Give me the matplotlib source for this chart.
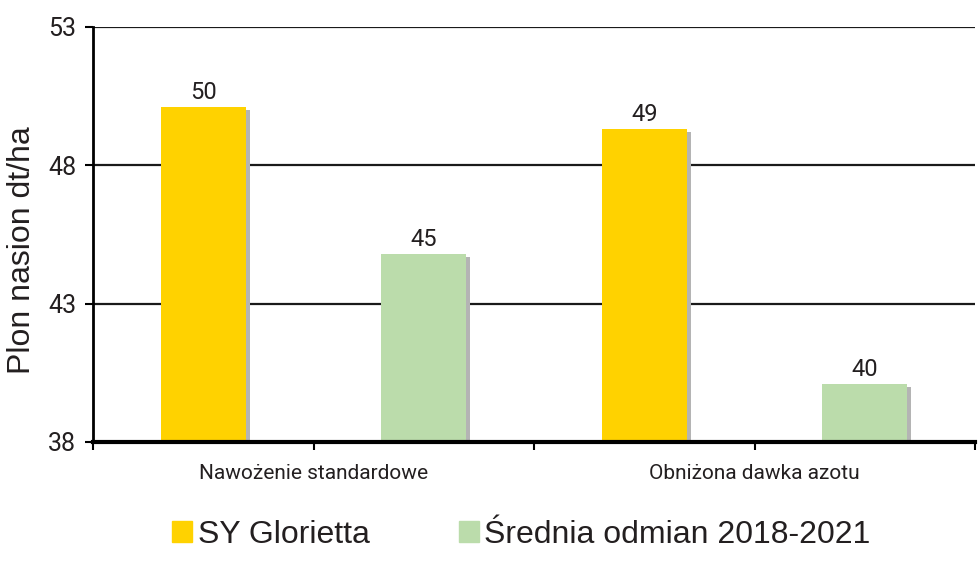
import matplotlib
matplotlib.use("Agg")
import matplotlib.pyplot as plt
import matplotlib.patheffects as pe
from matplotlib.patches import Patch

categories = ["Nawożenie standardowe", "Obniżona dawka azotu"]
series_names = ["SY Glorietta", "Średnia odmian 2018-2021"]
glorietta = [50.1, 49.3]
srednia = [44.8, 40.1]
value_labels_g = ["50", "49"]
value_labels_s = ["45", "40"]
yticks = [38, 43, 48, 53]

c_yellow = "#FFD200"
c_green = "#BBDCAB"
c_text = "#231F20"

narrow = ["Roboto", "DejaVu Sans"]
regular = ["Liberation Sans", "DejaVu Sans"]

fig = plt.figure(figsize=(9.8, 5.64), dpi=100)
ax = fig.add_axes([93/980, 1-442/564, (975-93)/980, (442-27)/564])

xg = [i + 0.25 for i in range(len(categories))]
xs = [i + 0.75 for i in range(len(categories))]
w = 0.193
shadow = [pe.SimplePatchShadow(offset=(3, -2), shadow_rgbFace="#B4B4B4", alpha=1.0), pe.Normal()]
b1 = ax.bar(xg, glorietta, width=w, bottom=0, color=c_yellow, zorder=3)
b2 = ax.bar(xs, srednia, width=w, bottom=0, color=c_green, zorder=3)
for b in list(b1) + list(b2):
    b.set_path_effects(shadow)

for x, v, t in zip(xg, glorietta, value_labels_g):
    ax.text(x, v + 0.12, t, ha="center", va="bottom", fontsize=17, family=narrow,
            weight="normal", color=c_text)
for x, v, t in zip(xs, srednia, value_labels_s):
    ax.text(x, v + 0.12, t, ha="center", va="bottom", fontsize=17, family=narrow,
            weight="normal", color=c_text)

ax.set_ylim(38, 53)
ax.set_xlim(0, 2)
ax.set_yticks(yticks)
ax.set_yticklabels([str(t) for t in yticks], fontsize=18, family=narrow, weight="normal", color=c_text)
for y in yticks[1:]:
    ax.axhline(y, color="#1a1a1a", lw=1.6, zorder=1)

ax.set_xticks([0, 0.5, 1, 1.5, 2])
ax.set_xticklabels(["", categories[0], "", categories[1], ""], fontsize=15, family=narrow,
                   weight="normal", color=c_text)
ax.tick_params(axis="x", length=6, width=1.5, pad=10)
ax.tick_params(axis="y", length=6, width=1.5, pad=6)

for s in ["top", "right"]:
    ax.spines[s].set_visible(False)
ax.spines["left"].set_linewidth(2)
ax.spines["bottom"].set_linewidth(3)
ax.spines["bottom"].set_zorder(4)

ax.set_ylabel("Plon nasion dt/ha", fontsize=23, family=regular, color=c_text)
ax.yaxis.set_label_coords(-56/882, 0.463)

handles = [Patch(color=c_yellow), Patch(color=c_green)]
leg = fig.legend(handles, series_names, loc="center", bbox_to_anchor=(0.532, 1-535/564),
                 ncol=2, frameon=False, prop={"family": regular, "size": 23},
                 handlelength=0.63, handleheight=0.63, handletextpad=0.16, columnspacing=2.8)
for t in leg.get_texts():
    t.set_color(c_text)

fig.savefig("out.png", dpi=100)
